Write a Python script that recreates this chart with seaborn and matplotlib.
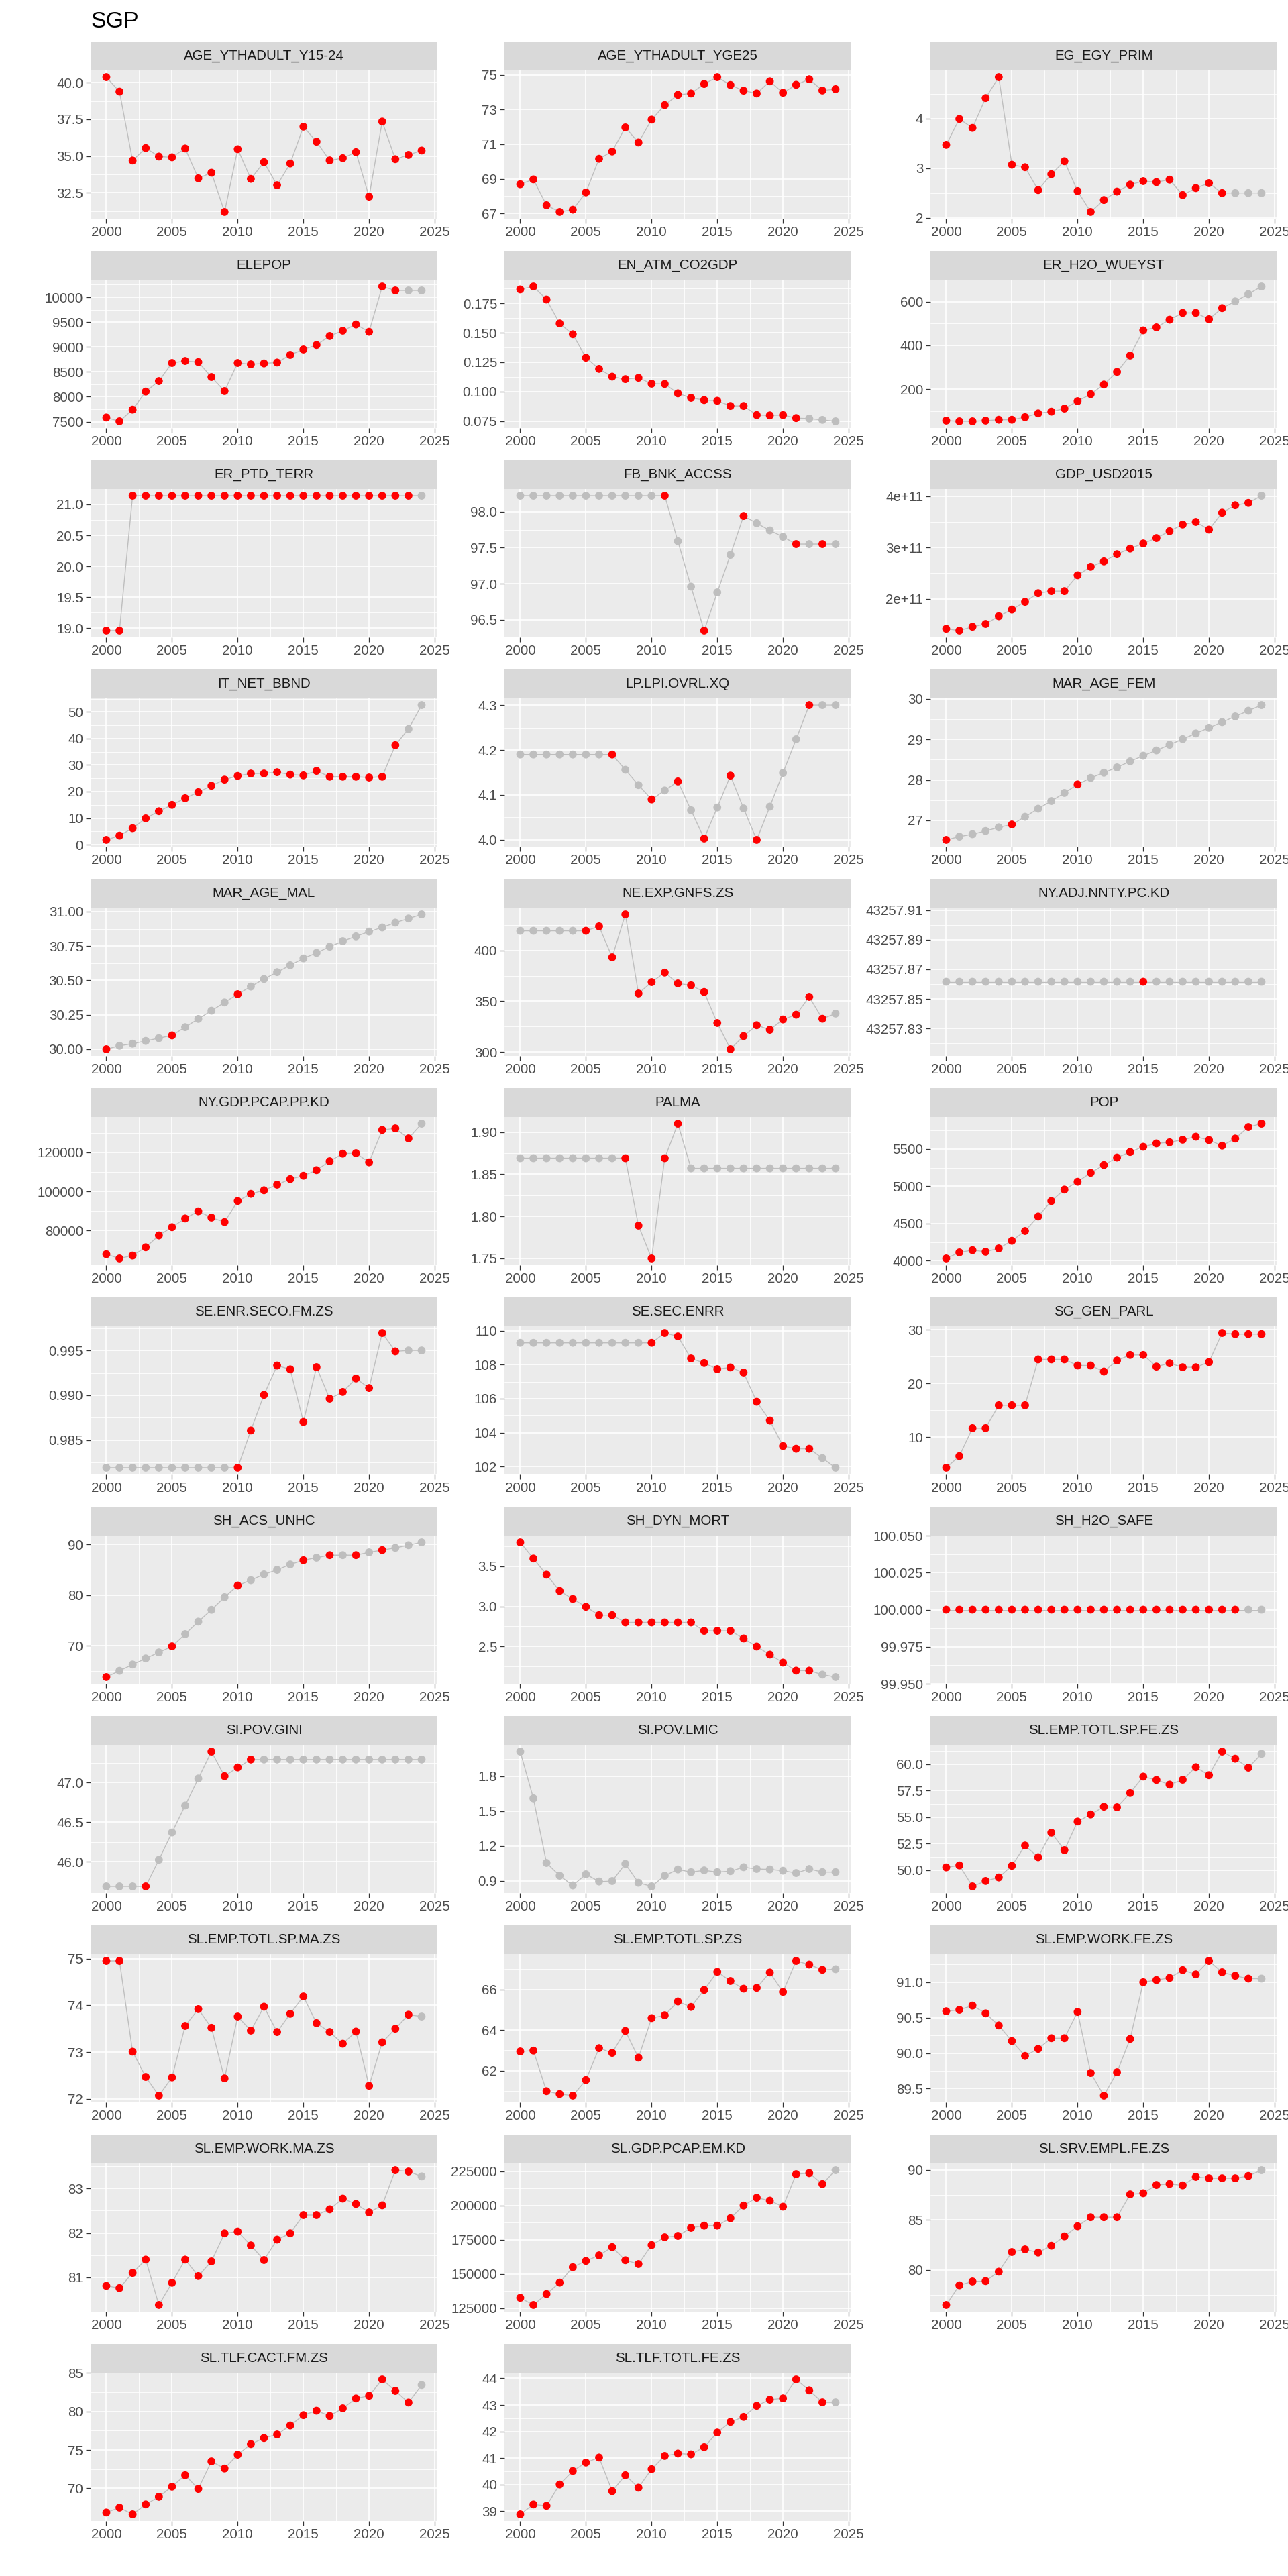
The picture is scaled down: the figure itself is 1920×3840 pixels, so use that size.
import numpy as np
import pandas as pd
import matplotlib
matplotlib.use('Agg')
import matplotlib.pyplot as plt
import seaborn as sns

# years shown in every panel
years = list(range(2000, 2025))

# values, one list per indicator
# status strings: R = observed (red), G = filled in (grey)
age_y15_24 = [40.37, 39.39, 34.7, 35.55, 34.97, 34.92, 35.52, 33.49, 33.87, 31.2, 35.47, 33.45, 34.59,
              33.02, 34.5, 37.0, 35.98, 34.71, 34.86, 35.27, 32.24, 37.35, 34.79, 35.08, 35.38]
st_age_y15_24 = "RRRRRRRRRRRRRRRRRRRRRRRRR"

age_ge25 = [68.69, 68.97, 67.48, 67.09, 67.22, 68.22, 70.16, 70.58, 71.97, 71.1, 72.42, 73.26, 73.85,
            73.93, 74.48, 74.87, 74.42, 74.09, 73.93, 74.63, 73.97, 74.43, 74.75, 74.1, 74.18]
st_age_ge25 = "RRRRRRRRRRRRRRRRRRRRRRRRR"

egy_prim = [3.47, 3.99, 3.81, 4.41, 4.83, 3.07, 3.02, 2.56, 2.88, 3.14, 2.54, 2.12, 2.36,
            2.53, 2.67, 2.74, 2.72, 2.77, 2.46, 2.6, 2.7, 2.5, 2.5, 2.5, 2.5]
st_egy_prim = "RRRRRRRRRRRRRRRRRRRRRRGGG"

elepop = [7585, 7509, 7742, 8105, 8316, 8680, 8720, 8698, 8397, 8115, 8680, 8653, 8671,
          8689, 8842, 8950, 9040, 9220, 9327, 9453, 9305, 10215, 10135, 10135, 10135]
st_elepop = "RRRRRRRRRRRRRRRRRRRRRRRGG"

co2gdp = [0.1868, 0.1893, 0.1782, 0.1579, 0.1487, 0.1288, 0.1193, 0.1127, 0.1106, 0.1117, 0.1067,
          0.1065, 0.0985, 0.0947, 0.0928, 0.0922, 0.0878, 0.0878, 0.0801, 0.0798, 0.0801, 0.0775,
          0.0771, 0.0760, 0.0748]
st_co2gdp = "RRRRRRRRRRRRRRRRRRRRRRGGG"

h2o_wueyst = [56, 53, 53, 56, 60, 60, 72, 89, 97, 111, 145, 177, 221,
              279, 354, 469, 483, 518, 549, 549, 520, 571, 602, 635, 670]
st_h2o_wueyst = "RRRRRRRRRRRRRRRRRRRRRRGGG"

ptd_terr = [18.96, 18.96] + [21.14] * 23
st_ptd_terr = "RRRRRRRRRRRRRRRRRRRRRRRRG"

bnk_accss = [98.22, 98.22, 98.22, 98.22, 98.22, 98.22, 98.22, 98.22, 98.22, 98.22, 98.22, 98.22,
             97.59, 96.96, 96.35, 96.88, 97.4, 97.94, 97.84, 97.74, 97.65, 97.55, 97.55, 97.55, 97.55]
st_bnk_accss = "GGGGGGGGGGGRGGRGGRGGGRGRG"

gdp_usd2015 = [1.415e11, 1.38e11, 1.455e11, 1.51e11, 1.66e11, 1.79e11, 1.94e11, 2.11e11, 2.15e11,
               2.15e11, 2.46e11, 2.625e11, 2.73e11, 2.87e11, 2.98e11, 3.08e11, 3.185e11, 3.32e11,
               3.45e11, 3.50e11, 3.35e11, 3.68e11, 3.825e11, 3.87e11, 4.01e11]
st_gdp_usd2015 = "RRRRRRRRRRRRRRRRRRRRRRRRG"

net_bbnd = [1.8, 3.4, 6.2, 9.9, 12.6, 15.0, 17.5, 19.8, 22.2, 24.5, 25.9, 26.8, 26.8,
            27.3, 26.4, 26.1, 27.8, 25.6, 25.6, 25.6, 25.3, 25.6, 37.5, 43.6, 52.6]
st_net_bbnd = "RRRRRRRRRRRRRRRRRRRRRRRGG"

lpi = [4.19, 4.19, 4.19, 4.19, 4.19, 4.19, 4.19, 4.19, 4.156, 4.122, 4.09, 4.11, 4.13,
       4.066, 4.003, 4.072, 4.143, 4.07, 4.0, 4.074, 4.149, 4.224, 4.3, 4.3, 4.3]
st_lpi = "GGGGGGGRGGRGRGRGRGRGGGRGG"

mar_fem = [26.52, 26.6, 26.66, 26.74, 26.83, 26.9, 27.09, 27.29, 27.48, 27.68, 27.89, 28.05, 28.18,
           28.31, 28.46, 28.6, 28.73, 28.87, 29.01, 29.15, 29.29, 29.43, 29.57, 29.71, 29.85]
st_mar_fem = "RGGGGRGGGGRGGGGGGGGGGGGGG"

mar_mal = [30.0, 30.025, 30.04, 30.06, 30.08, 30.1, 30.16, 30.22, 30.28, 30.34, 30.4, 30.455, 30.51,
           30.56, 30.61, 30.66, 30.70, 30.745, 30.785, 30.82, 30.855, 30.885, 30.92, 30.95, 30.98]
st_mar_mal = "RGGGGRGGGGRGGGGGGGGGGGGGG"

exp_gnfs = [419.4, 419.4, 419.4, 419.4, 419.4, 419.4, 423.8, 393.3, 435.6, 357.6, 368.8, 378.2, 367.5,
            365.7, 359.1, 328.5, 302.7, 315.6, 326.3, 321.8, 332.0, 336.7, 354.3, 332.7, 337.8]
st_exp_gnfs = "GGGGGRRRRRRRRRRRRRRRRRRRG"

adj_nnty = [43257.8616] * 25
st_adj_nnty = "GGGGGGGGGGGGGGGRGGGGGGGGG"

gdp_pcap_pp = [67886, 65714, 67200, 71430, 77490, 81714, 86170, 89830, 86630, 84340, 95090, 98740,
               100570, 103430, 106290, 108000, 110860, 115430, 119310, 119540, 114860, 131430,
               132230, 127090, 134630]
st_gdp_pcap_pp = "RRRRRRRRRRRRRRRRRRRRRRRRG"

palma = [1.869, 1.869, 1.869, 1.869, 1.869, 1.869, 1.869, 1.869, 1.869, 1.789, 1.75, 1.869, 1.91,
         1.857, 1.857, 1.857, 1.857, 1.857, 1.857, 1.857, 1.857, 1.857, 1.857, 1.857, 1.857]
st_palma = "GGGGGGGGRRRRRGGGGGGGGGGGG"

pop = [4030, 4111, 4141, 4120, 4165, 4267, 4399, 4594, 4801, 4955, 5060, 5180, 5285,
       5385, 5460, 5530, 5575, 5590, 5625, 5665, 5620, 5545, 5640, 5795, 5840]
st_pop = "RRRRRRRRRRRRRRRRRRRRRRRRR"

enr_seco = [0.98192, 0.98192, 0.98192, 0.98192, 0.98192, 0.98192, 0.98192, 0.98192, 0.98192,
            0.98192, 0.98192, 0.98608, 0.99005, 0.99332, 0.99289, 0.98703, 0.99314, 0.98962,
            0.99038, 0.99188, 0.99081, 0.99695, 0.9949, 0.995, 0.995]
st_enr_seco = "GGGGGGGGGGRRRRRRRRRRRRRGG"

sec_enrr = [109.29, 109.29, 109.29, 109.29, 109.29, 109.29, 109.29, 109.29, 109.29, 109.29, 109.29,
            109.87, 109.67, 108.37, 108.1, 107.74, 107.84, 107.54, 105.82, 104.71, 103.21, 103.05,
            103.05, 102.5, 101.93]
st_sec_enrr = "GGGGGGGGGGRRRRRRRRRRRRRGG"

gen_parl = [4.29, 6.46, 11.67, 11.67, 15.92, 15.92, 15.92, 24.46, 24.46, 24.46, 23.33, 23.33, 22.2,
            24.25, 25.29, 25.29, 23.12, 23.75, 23.0, 23.0, 23.96, 29.38, 29.17, 29.17, 29.17]
st_gen_parl = "RRRRRRRRRRRRRRRRRRRRRRRRR"

acs_unhc = [63.82, 65.06, 66.3, 67.5, 68.7, 69.9, 72.3, 74.77, 77.1, 79.6, 81.9, 82.96, 84.1,
            85.0, 86.06, 86.9, 87.4, 87.9, 87.9, 87.9, 88.46, 88.9, 89.34, 89.87, 90.44]
st_acs_unhc = "RGGGGRGGGGRGGGGRGRGRGRGGG"

dyn_mort = [3.797, 3.595, 3.394, 3.192, 3.092, 2.994, 2.89, 2.89, 2.8, 2.8, 2.8, 2.8, 2.8,
            2.8, 2.695, 2.695, 2.695, 2.6, 2.5, 2.4, 2.3, 2.2, 2.2, 2.15, 2.12]
st_dyn_mort = "RRRRRRRRRRRRRRRRRRRRRRRGG"

h2o_safe = [100.0] * 25
st_h2o_safe = "RRRRRRRRRRRRRRRRRRRRRRRGG"

pov_gini = [45.69, 45.69, 45.69, 45.69, 46.025, 46.37, 46.71, 47.05, 47.39, 47.08, 47.19, 47.29, 47.29,
            47.29, 47.29, 47.29, 47.29, 47.29, 47.29, 47.29, 47.29, 47.29, 47.29, 47.29, 47.29]
st_pov_gini = "GGGRGGGGRRRRGGGGGGGGGGGGG"

pov_lmic = [2.013, 1.61, 1.054, 0.944, 0.86, 0.956, 0.894, 0.898, 1.046, 0.883, 0.852, 0.944, 0.998,
            0.975, 0.99, 0.975, 0.983, 1.017, 1.002, 0.998, 0.987, 0.967, 1.002, 0.975, 0.975]
st_pov_lmic = "GGGGGGGGGGGGGGGGGGGGGGGGG"

emp_sp_fe = [50.27, 50.46, 48.48, 48.99, 49.32, 50.42, 52.33, 51.23, 53.55, 51.9, 54.6, 55.27, 56.0,
             55.95, 57.29, 58.84, 58.52, 58.08, 58.54, 59.73, 58.97, 61.2, 60.53, 59.68, 60.99]
st_emp_sp_fe = "RRRRRRRRRRRRRRRRRRRRRRRRG"

emp_sp_ma = [74.95, 74.95, 73.01, 72.47, 72.07, 72.46, 73.56, 73.92, 73.52, 72.44, 73.76, 73.46, 73.97,
             73.43, 73.82, 74.19, 73.62, 73.43, 73.18, 73.44, 72.28, 73.21, 73.5, 73.8, 73.76]
st_emp_sp_ma = "RRRRRRRRRRRRRRRRRRRRRRRRG"

emp_sp = [62.95, 62.99, 60.99, 60.85, 60.77, 61.54, 63.11, 62.88, 63.96, 62.64, 64.59, 64.73, 65.41,
          65.14, 65.98, 66.87, 66.42, 66.04, 66.08, 66.84, 65.88, 67.41, 67.23, 66.97, 67.0]
st_emp_sp = "RRRRRRRRRRRRRRRRRRRRRRRRG"

work_fe = [90.59, 90.61, 90.67, 90.56, 90.39, 90.17, 89.96, 90.06, 90.21, 90.21, 90.58, 89.72, 89.40,
           89.73, 90.2, 91.0, 91.03, 91.06, 91.17, 91.11, 91.3, 91.14, 91.09, 91.05, 91.05]
st_work_fe = "RRRRRRRRRRRRRRRRRRRRRRRRG"

work_ma = [80.81, 80.76, 81.1, 81.4, 80.38, 80.88, 81.4, 81.03, 81.36, 81.99, 82.03, 81.72, 81.39,
           81.85, 81.99, 82.4, 82.4, 82.53, 82.77, 82.65, 82.46, 82.62, 83.41, 83.38, 83.27]
st_work_ma = "RRRRRRRRRRRRRRRRRRRRRRRRG"

gdp_pcap_em = [132670, 127450, 135440, 143760, 155020, 159580, 163660, 169700, 160080, 157300, 171170,
               176870, 177850, 183720, 185360, 185360, 190740, 200000, 205710, 203590, 199180,
               222880, 223690, 215700, 225820]
st_gdp_pcap_em = "RRRRRRRRRRRRRRRRRRRRRRRRG"

srv_empl_fe = [76.49, 78.46, 78.84, 78.88, 79.82, 81.79, 82.06, 81.74, 82.42, 83.36, 84.37, 85.27, 85.27,
               85.27, 87.56, 87.67, 88.5, 88.6, 88.46, 89.31, 89.17, 89.17, 89.17, 89.4, 89.98]
st_srv_empl_fe = "RRRRRRRRRRRRRRRRRRRRRRRRG"

tlf_cact = [66.88, 67.52, 66.65, 67.93, 68.92, 70.23, 71.72, 69.94, 73.52, 72.59, 74.39, 75.76, 76.55,
            77.01, 78.18, 79.52, 80.1, 79.42, 80.41, 81.69, 82.04, 84.15, 82.67, 81.16, 83.43]
st_tlf_cact = "RRRRRRRRRRRRRRRRRRRRRRRRG"

tlf_fe = [38.88, 39.25, 39.2, 40.0, 40.51, 40.83, 41.02, 39.75, 40.35, 39.88, 40.58, 41.08, 41.17,
          41.14, 41.41, 41.96, 42.36, 42.55, 42.97, 43.2, 43.25, 43.96, 43.55, 43.1, 43.1]
st_tlf_fe = "RRRRRRRRRRRRRRRRRRRRRRRRG"

# y-axis breaks per panel, in facet order
x_ticks = [2000, 2005, 2010, 2015, 2020, 2025]
panels = [
    ("AGE_YTHADULT_Y15-24", age_y15_24, st_age_y15_24, [32.5, 35.0, 37.5, 40.0]),
    ("AGE_YTHADULT_YGE25", age_ge25, st_age_ge25, [67, 69, 71, 73, 75]),
    ("EG_EGY_PRIM", egy_prim, st_egy_prim, [2, 3, 4]),
    ("ELEPOP", elepop, st_elepop, [7500, 8000, 8500, 9000, 9500, 10000]),
    ("EN_ATM_CO2GDP", co2gdp, st_co2gdp, [0.075, 0.100, 0.125, 0.150, 0.175]),
    ("ER_H2O_WUEYST", h2o_wueyst, st_h2o_wueyst, [200, 400, 600]),
    ("ER_PTD_TERR", ptd_terr, st_ptd_terr, [19.0, 19.5, 20.0, 20.5, 21.0]),
    ("FB_BNK_ACCSS", bnk_accss, st_bnk_accss, [96.5, 97.0, 97.5, 98.0]),
    ("GDP_USD2015", gdp_usd2015, st_gdp_usd2015, [2e11, 3e11, 4e11]),
    ("IT_NET_BBND", net_bbnd, st_net_bbnd, [0, 10, 20, 30, 40, 50]),
    ("LP.LPI.OVRL.XQ", lpi, st_lpi, [4.0, 4.1, 4.2, 4.3]),
    ("MAR_AGE_FEM", mar_fem, st_mar_fem, [27, 28, 29, 30]),
    ("MAR_AGE_MAL", mar_mal, st_mar_mal, [30.00, 30.25, 30.50, 30.75, 31.00]),
    ("NE.EXP.GNFS.ZS", exp_gnfs, st_exp_gnfs, [300, 350, 400]),
    ("NY.ADJ.NNTY.PC.KD", adj_nnty, st_adj_nnty, [43257.83, 43257.85, 43257.87, 43257.89, 43257.91]),
    ("NY.GDP.PCAP.PP.KD", gdp_pcap_pp, st_gdp_pcap_pp, [80000, 100000, 120000]),
    ("PALMA", palma, st_palma, [1.75, 1.80, 1.85, 1.90]),
    ("POP", pop, st_pop, [4000, 4500, 5000, 5500]),
    ("SE.ENR.SECO.FM.ZS", enr_seco, st_enr_seco, [0.985, 0.990, 0.995]),
    ("SE.SEC.ENRR", sec_enrr, st_sec_enrr, [102, 104, 106, 108, 110]),
    ("SG_GEN_PARL", gen_parl, st_gen_parl, [10, 20, 30]),
    ("SH_ACS_UNHC", acs_unhc, st_acs_unhc, [70, 80, 90]),
    ("SH_DYN_MORT", dyn_mort, st_dyn_mort, [2.5, 3.0, 3.5]),
    ("SH_H2O_SAFE", h2o_safe, st_h2o_safe, [99.950, 99.975, 100.000, 100.025, 100.050]),
    ("SI.POV.GINI", pov_gini, st_pov_gini, [46.0, 46.5, 47.0]),
    ("SI.POV.LMIC", pov_lmic, st_pov_lmic, [0.9, 1.2, 1.5, 1.8]),
    ("SL.EMP.TOTL.SP.FE.ZS", emp_sp_fe, st_emp_sp_fe, [50.0, 52.5, 55.0, 57.5, 60.0]),
    ("SL.EMP.TOTL.SP.MA.ZS", emp_sp_ma, st_emp_sp_ma, [72, 73, 74, 75]),
    ("SL.EMP.TOTL.SP.ZS", emp_sp, st_emp_sp, [62, 64, 66]),
    ("SL.EMP.WORK.FE.ZS", work_fe, st_work_fe, [89.5, 90.0, 90.5, 91.0]),
    ("SL.EMP.WORK.MA.ZS", work_ma, st_work_ma, [81, 82, 83]),
    ("SL.GDP.PCAP.EM.KD", gdp_pcap_em, st_gdp_pcap_em, [125000, 150000, 175000, 200000, 225000]),
    ("SL.SRV.EMPL.FE.ZS", srv_empl_fe, st_srv_empl_fe, [80, 85, 90]),
    ("SL.TLF.CACT.FM.ZS", tlf_cact, st_tlf_cact, [70, 75, 80, 85]),
    ("SL.TLF.TOTL.FE.ZS", tlf_fe, st_tlf_fe, [39, 40, 41, 42, 43, 44]),
]

# long table for seaborn
rows = []
for name, vals, st, _ in panels:
    for yr, v, s in zip(years, vals, st):
        rows.append({"indicator": name, "year": yr, "value": v,
                     "status": "observed" if s == "R" else "imputed"})
df = pd.DataFrame(rows)


def tick_labels(ticks):
    # ggplot-like formatting: same number of decimals for every label
    if max(abs(t) for t in ticks) >= 1e10:
        return [f"{t:.0e}" for t in ticks]
    for d in range(7):
        if all(abs(round(t, d) - t) < 1e-9 for t in ticks):
            break
    return [f"{t:.{d}f}" for t in ticks]


sns.set_theme(style="white")
plt.rcParams['font.family'] = ['Liberation Sans', 'DejaVu Sans']

W, H = 1920, 3840
fig = plt.figure(figsize=(W / 100, H / 100), dpi=100)
fig.text(135 / W, 1 - 41 / H, "SGP", fontsize=24.5, ha="left", va="baseline", color="black")

col_left = [135, 752, 1387]
pan_w = 517
strip_top0, strip_h, pan_h, row_step = 62, 43, 221, 312
palette = {"observed": "#FF0000", "imputed": "#BEBEBE"}

for k, (name, vals, st, yt) in enumerate(panels):
    r, c = divmod(k, 3)
    x0 = col_left[c]
    s_top = strip_top0 + r * row_step
    p_top = s_top + strip_h
    ax = fig.add_axes([x0 / W, 1 - (p_top + pan_h) / H, pan_w / W, pan_h / H])
    sax = fig.add_axes([x0 / W, 1 - p_top / H, pan_w / W, strip_h / H])
    sax.set_facecolor("#D9D9D9")
    sax.set_xticks([])
    sax.set_yticks([])
    for sp in sax.spines.values():
        sp.set_visible(False)
    sax.text(0.5, 0.5, name, ha="center", va="center", fontsize=14.8, color="#1A1A1A",
             transform=sax.transAxes)

    d = df[df["indicator"] == name]
    ax.set_facecolor("#EBEBEB")
    sns.lineplot(data=d, x="year", y="value", color="#BEBEBE", lw=1.0, estimator=None,
                 ax=ax, zorder=3)
    sns.scatterplot(data=d, x="year", y="value", hue="status", palette=palette, s=72,
                    linewidth=0, legend=False, ax=ax, zorder=4)

    # ggplot default expansion
    ax.set_xlim(2000 - 1.2, 2024 + 1.2)
    lo, hi = min(vals), max(vals)
    if hi - lo == 0:
        ax.set_ylim(lo - 0.05, hi + 0.05)
    else:
        pad = (hi - lo) * 0.05
        ax.set_ylim(lo - pad, hi + pad)
    ylo, yhi = ax.get_ylim()

    ax.set_xticks(x_ticks)
    ax.set_xticklabels([str(t) for t in x_ticks])
    ax.set_xticks([2002.5, 2007.5, 2012.5, 2017.5, 2022.5], minor=True)
    ax.set_yticks(yt)
    ax.set_yticklabels(tick_labels(yt))
    step = yt[1] - yt[0]
    minors = [yt[0] - step / 2] + [t + step / 2 for t in yt]
    ax.set_yticks([m for m in minors if ylo < m < yhi], minor=True)
    ax.set_ylim(ylo, yhi)

    ax.grid(which="major", color="white", lw=1.2)
    ax.grid(which="minor", color="white", lw=0.6)
    ax.set_axisbelow(True)
    ax.tick_params(which="major", length=4.8, width=0.9, color="#333333", labelcolor="#4D4D4D",
                   labelsize=14.8, pad=3.0, left=True, bottom=True)
    ax.tick_params(which="minor", length=0)
    for sp in ax.spines.values():
        sp.set_visible(False)
    ax.set_xlabel("")
    ax.set_ylabel("")

fig.savefig("out.png", dpi=100, facecolor="white")
